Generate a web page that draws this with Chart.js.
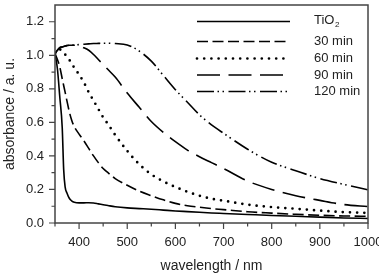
<!DOCTYPE html>
<html>
<head>
<meta charset="utf-8">
<script src="https://cdn.jsdelivr.net/npm/chart.js@4.4.0/dist/chart.umd.min.js"></script>
<style>
html, body { margin: 0; padding: 0; background: #fff; }
</style>
</head>
<body>
<canvas id="grafico" width="379" height="276"></canvas>
<script>
// comprimentos de onda (nm)
var comprimentos = [350, 355, 360, 365, 368, 371, 375, 380, 385, 390,
    400, 410, 420, 430, 440, 450, 460, 475,
    500, 525, 550, 575, 600, 625, 650, 675, 700,
    750, 800, 850, 900, 950, 1000]

var tio2 = [1.01, 0.92, 0.75, 0.57, 0.32, 0.215, 0.178, 0.146, 0.131, 0.124,
    0.12, 0.12, 0.121, 0.119, 0.114, 0.109, 0.104, 0.097,
    0.09, 0.086, 0.082, 0.077, 0.072, 0.068, 0.064, 0.06, 0.057,
    0.051, 0.045, 0.04, 0.035, 0.03, 0.027]

var min30 = [1.01, 0.975, 0.93, 0.86, 0.82, 0.78, 0.725, 0.66, 0.61, 0.575,
    0.53, 0.49, 0.445, 0.40, 0.36, 0.325, 0.30, 0.265,
    0.225, 0.19, 0.163, 0.138, 0.117, 0.103, 0.094, 0.086, 0.08,
    0.067, 0.059, 0.052, 0.046, 0.042, 0.04]

var min60 = [1.01, 1.03, 1.035, 1.025, 1.015, 1.005, 0.99, 0.972, 0.95, 0.926,
    0.885, 0.838, 0.78, 0.73, 0.68, 0.63, 0.59, 0.525,
    0.43, 0.35, 0.29, 0.248, 0.215, 0.186, 0.163, 0.145, 0.133,
    0.11, 0.095, 0.085, 0.074, 0.065, 0.06]

var min90 = [1.01, 1.03, 1.045, 1.05, 1.053, 1.055, 1.058, 1.06, 1.06, 1.06,
    1.055, 1.045, 1.03, 1.005, 0.975, 0.945, 0.915, 0.87,
    0.775, 0.69, 0.605, 0.54, 0.485, 0.435, 0.395, 0.36, 0.325,
    0.25, 0.2, 0.163, 0.135, 0.11, 0.098]

var min120 = [1.01, 1.03, 1.045, 1.05, 1.053, 1.055, 1.058, 1.06, 1.061, 1.062,
    1.064, 1.066, 1.068, 1.07, 1.071, 1.072, 1.072, 1.07,
    1.062, 1.025, 0.965, 0.88, 0.795, 0.72, 0.645, 0.585, 0.535,
    0.44, 0.362, 0.312, 0.265, 0.23, 0.198]

var nomes = ['TiO2', '30 min', '60 min', '90 min', '120 min']

var fonte = "'Liberation Sans', Arial, sans-serif"
Chart.defaults.font.family = fonte
Chart.defaults.color = '#222'

function pontos(valores){
    return comprimentos.map(function(x, i){ return {x: x, y: valores[i]} })
}

function serie(nome, valores, dash, largura, cap){
    return {
        label: nome,
        data: pontos(valores),
        borderColor: '#000',
        borderWidth: largura,
        borderDash: dash,
        borderCapStyle: cap,
        pointRadius: 0,
        fill: false,
        cubicInterpolationMode: 'monotone'
    }
}

// moldura, ticks menores e legenda dentro do grafico
var extras = {
    id: 'extras',
    afterDatasetsDraw: function(chart){
        var ctx = chart.ctx
        var a = chart.chartArea
        var sx = chart.scales.x
        var sy = chart.scales.y
        ctx.save()
        ctx.strokeStyle = '#444'
        ctx.lineWidth = 1.5
        ctx.setLineDash([])
        ctx.strokeRect(a.left, a.top, a.right - a.left, a.bottom - a.top)

        ctx.lineWidth = 1.2
        ctx.beginPath()
        sy.ticks.forEach(function(t){
            var v = Math.round(t.value * 10)
            if (v > 12) return
            var y = sy.getPixelForValue(t.value)
            var l = v % 2 === 0 ? 6 : 3.5
            ctx.moveTo(a.left - l, y)
            ctx.lineTo(a.left, y)
        })
        sx.ticks.forEach(function(t){
            var x = sx.getPixelForValue(t.value)
            var l = t.value % 100 === 0 ? 6 : 3.5
            ctx.moveTo(x, a.bottom)
            ctx.lineTo(x, a.bottom + l)
        })
        ctx.stroke()

        // legenda
        var linhas = [21.5, 41.5, 58.5, 75, 91.5]
        chart.data.datasets.forEach(function(ds, i){
            var y = linhas[i]
            ctx.strokeStyle = '#000'
            ctx.lineWidth = ds.borderWidth
            ctx.lineCap = ds.borderCapStyle
            ctx.setLineDash(ds.borderDash)
            ctx.beginPath()
            ctx.moveTo(197, y)
            ctx.lineTo(290, y)
            ctx.stroke()
            ctx.setLineDash([])
            ctx.fillStyle = '#222'
            ctx.textBaseline = 'middle'
            ctx.textAlign = 'left'
            ctx.font = '13px ' + fonte
            if (i === 0) {
                ctx.fillText('TiO', 314, y - 1)
                var w = ctx.measureText('TiO').width
                ctx.font = '8px ' + fonte
                ctx.fillText('2', 314 + w + 0.5, y + 3)
            } else {
                ctx.fillText(ds.label, 314, y)
            }
        })
        ctx.restore()
    }
}

var ctx = document.getElementById('grafico').getContext('2d')
var grafico = new Chart(ctx, {
    type: 'line',
    data: {
        datasets: [
            serie(nomes[0], tio2, [], 1.6, 'butt'),
            serie(nomes[1], min30, [11, 4.5], 1.6, 'butt'),
            serie(nomes[2], min60, [0, 7.2], 2.7, 'round'),
            serie(nomes[3], min90, [23, 8.5], 1.6, 'butt'),
            serie(nomes[4], min120, [17, 3.5, 1.5, 3.5, 1.5, 4.5], 1.6, 'butt')
        ]
    },
    options: {
        responsive: false,
        animation: false,
        layout: { padding: { left: 0, right: 11, top: 5, bottom: 0 } },
        plugins: {
            legend: { display: false },
            tooltip: { enabled: false }
        },
        scales: {
            x: {
                type: 'linear',
                min: 350,
                max: 1000,
                grid: { display: false, drawTicks: false },
                border: { display: false },
                ticks: {
                    stepSize: 50,
                    autoSkip: false,
                    maxRotation: 0,
                    padding: 12,
                    font: { size: 13 },
                    callback: function(v){ return v % 100 === 0 ? String(v) : '' }
                },
                title: {
                    display: true,
                    text: 'wavelength / nm',
                    font: { size: 14 },
                    padding: { top: 0, bottom: 1 }
                },
                afterFit: function(s){ s.height = 53; s.paddingLeft = 0; s.paddingRight = 0 }
            },
            y: {
                min: 0,
                max: 1.3,
                grid: { display: false, drawTicks: false },
                border: { display: false },
                ticks: {
                    stepSize: 0.1,
                    autoSkip: false,
                    padding: 11,
                    font: { size: 13 },
                    callback: function(v){
                        var n = Math.round(v * 10)
                        return (n % 2 === 0 && n <= 12) ? (n / 10).toFixed(1) : ''
                    }
                },
                title: {
                    display: true,
                    text: 'absorbance / a. u.',
                    font: { size: 14 },
                    padding: { top: 2, bottom: 0 }
                },
                afterFit: function(s){ s.width = 55; s.paddingTop = 0; s.paddingBottom = 0 }
            }
        }
    },
    plugins: [extras]
})
</script>
</body>
</html>
